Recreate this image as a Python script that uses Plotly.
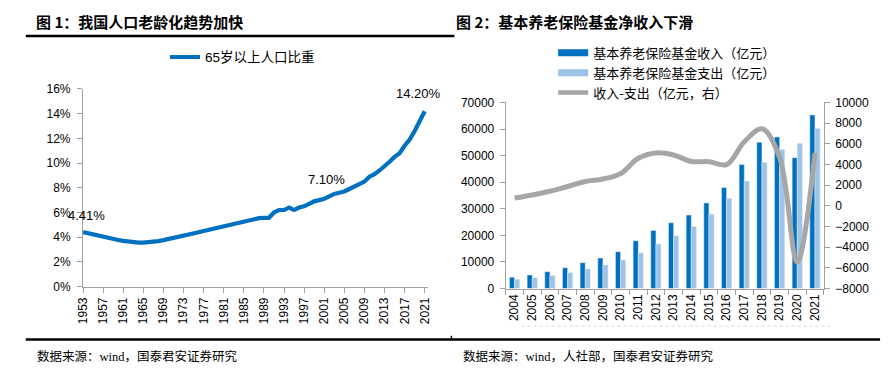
import plotly.graph_objects as go

# ---------------- data ----------------
pop_years = list(range(1953, 2022))
pop65_share = [4.41, 4.31, 4.21, 4.11, 4.02, 3.93, 3.85, 3.77, 3.70, 3.64,
               3.59, 3.56, 3.56, 3.58, 3.62, 3.68, 3.76, 3.84, 3.93, 4.02,
               4.11, 4.20, 4.30, 4.40, 4.50, 4.60, 4.70, 4.80, 4.90, 5.00,
               5.10, 5.20, 5.30, 5.39, 5.48, 5.54, 5.57, 5.57, 6.00, 6.20,
               6.20, 6.40, 6.20, 6.40, 6.50, 6.70, 6.90, 7.00, 7.10, 7.30,
               7.50, 7.60, 7.70, 7.90, 8.10, 8.30, 8.50, 8.90, 9.10, 9.40,
               9.70, 10.10, 10.50, 10.80, 11.40, 11.90, 12.60, 13.50, 14.20]
pop_labels = {1953: 4.41, 2001: 7.10, 2021: 14.20}

fund_years = [str(y) for y in range(2004, 2022)]
fund_income = [4258, 5093, 6310, 7834, 9740, 11491, 13873, 17965, 21830,
               24733, 27620, 32195, 37991, 46614, 55005, 57026, 49229, 65300]
fund_expense = [3502, 4040, 4897, 5965, 7390, 8894, 10755, 13363, 16712,
                19818, 23326, 27929, 34004, 40424, 47550, 52342, 54656, 60200]
fund_net = [756, 1053, 1413, 1869, 2350, 2597, 3118, 4602, 5118,
            4915, 4294, 4266, 3987, 6190, 7455, 4684, -5427, 5100]

name_pop = "65岁以上人口比重"
name_inc = "基本养老保险基金收入（亿元）"
name_exp = "基本养老保险基金支出（亿元）"
name_net = "收入-支出（亿元，右）"

DARK = "#0070C0"
LIGHT = "#9DC3E6"
GRAY = "#A6A6A6"
AXIS = "#A0A0A0"
W, H = 890, 390

def px(x):
    return x / W

def py(y):
    return 1 - y / H

fig = go.Figure()

# ---------------- left chart ----------------
fig.add_trace(go.Scatter(x=pop_years, y=pop65_share, mode="lines",
                         line=dict(color=DARK, width=4.2), name=name_pop,
                         xaxis="x", yaxis="y", legend="legend", cliponaxis=False))

# ---------------- right chart ----------------
fig.add_trace(go.Bar(x=fund_years, y=fund_income, marker_color=DARK, name=name_inc,
                     xaxis="x2", yaxis="y2", showlegend=False))
fig.add_trace(go.Bar(x=fund_years, y=fund_expense, marker_color=LIGHT, name=name_exp,
                     xaxis="x2", yaxis="y2", showlegend=False))
fig.add_trace(go.Scatter(x=fund_years, y=fund_net, mode="lines",
                         line=dict(color=GRAY, width=5, shape="spline", smoothing=1.0),
                         name=name_net, xaxis="x2", yaxis="y3", showlegend=False))
# legend entries (wide rectangle style)
for nm, col, wd in [(name_inc, DARK, 7), (name_exp, LIGHT, 7), (name_net, GRAY, 4.5)]:
    fig.add_trace(go.Scatter(x=[None], y=[None], mode="lines", name=nm,
                             line=dict(color=col, width=wd),
                             xaxis="x2", yaxis="y2", legend="legend2"))

tickfont = dict(family="Liberation Sans, Arial", size=12, color="#000")

# data labels on left chart
shifts = {1953: (3, 17), 2001: (2, 19), 2021: (-6, 18)}
annotations = []
for yr, val in pop_labels.items():
    dx, dy = shifts[yr]
    annotations.append(dict(x=yr, y=val, xref="x", yref="y", text=f"{val:.2f}%",
                            showarrow=False, xshift=dx, yshift=dy,
                            font=dict(family="Liberation Sans, Arial", size=13, color="#000")))

titlefont = dict(family="Noto Sans CJK SC", size=15, color="#000", weight="bold")
annotations += [
    dict(x=px(27), y=py(15), xref="paper", yref="paper", xanchor="left", yanchor="middle",
         text="<b>图 1：我国人口老龄化趋势加快</b>", showarrow=False, font=titlefont),
    dict(x=px(453), y=py(15), xref="paper", yref="paper", xanchor="left", yanchor="middle",
         text="<b>图 2：基本养老保险基金净收入下滑</b>", showarrow=False, font=titlefont),
]
srcfont = dict(family="Liberation Serif, Noto Sans CJK SC", size=12.5, color="#000")
annotations += [
    dict(x=px(28), y=py(362), xref="paper", yref="paper", xanchor="left", yanchor="middle",
         text="数据来源：wind，国泰君安证券研究", showarrow=False, font=srcfont),
    dict(x=px(460), y=py(362), xref="paper", yref="paper", xanchor="left", yanchor="middle",
         text="数据来源：wind，人社部，国泰君安证券研究", showarrow=False, font=srcfont),
]

shapes = [
    dict(type="line", xref="paper", yref="paper", x0=px(19), x1=px(453), y0=py(30), y1=py(30),
         line=dict(color="#000", width=2.5)),
    dict(type="line", xref="paper", yref="paper", x0=px(19), x1=px(884), y0=py(345), y1=py(345),
         line=dict(color="#000", width=2.5)),
    dict(type="line", xref="paper", yref="paper", x0=px(450), x1=px(450), y0=py(345), y1=py(341),
         line=dict(color="#000", width=1.5)),
    dict(type="line", xref="paper", yref="paper", x0=px(521), x1=px(835), y0=py(331), y1=py(331),
         line=dict(color="#D8D8D8", width=1, dash="dot")),
]

fig.update_layout(
    width=W, height=H, margin=dict(l=0, r=0, t=0, b=0),
    paper_bgcolor="white", plot_bgcolor="white",
    barmode="group", bargap=0.42, bargroupgap=0,
    annotations=annotations, shapes=shapes,
    xaxis=dict(domain=[px(77), px(426)], anchor="y", range=[1953, 2021.6],
               tick0=1953, dtick=4, tickangle=-90, ticks="outside", ticklen=5,
               tickcolor=AXIS, showline=True, linecolor=AXIS, linewidth=1.2,
               showgrid=False, zeroline=False, tickfont=dict(tickfont, size=12)),
    yaxis=dict(domain=[py(290), py(85)], anchor="x", range=[0, 16], dtick=2,
               ticksuffix="%", ticks="outside", ticklen=5, tickcolor=AXIS,
               showline=True, linecolor=AXIS, linewidth=1.2, showgrid=False,
               zeroline=False, tickfont=tickfont, ticklabelstandoff=4),
    xaxis2=dict(domain=[px(505), px(827)], anchor="y2", type="category",
                range=[-0.5, 17.5], tickangle=-90, ticks="outside", ticklen=5,
                tickson="boundaries", tickcolor=AXIS, showline=True, linecolor=AXIS,
                linewidth=1.2, showgrid=False, zeroline=False, tickfont=tickfont),
    yaxis2=dict(domain=[py(292), py(99)], anchor="x2", range=[0, 70000], dtick=10000,
                tickformat="d", ticks="outside", ticklen=5, tickcolor=AXIS,
                showline=True, linecolor=AXIS, linewidth=1.2, showgrid=False,
                zeroline=False, tickfont=tickfont, ticklabelstandoff=3),
    yaxis3=dict(overlaying="y2", side="right", anchor="x2", range=[-8000, 10000],
                dtick=2000, tickformat="d", ticks="outside", ticklen=5, tickcolor=AXIS,
                showline=True, linecolor=AXIS, linewidth=1.2, showgrid=False,
                zeroline=False, tickfont=tickfont, ticklabelstandoff=3),
    legend=dict(x=px(160), y=py(36), xanchor="left", yanchor="top",
                bgcolor="rgba(0,0,0,0)", borderwidth=0,
                font=dict(family="Liberation Sans, Noto Sans CJK SC", size=13.5, color="#000")),
    legend2=dict(x=px(553), y=py(32), xanchor="left", yanchor="top",
                 bgcolor="rgba(0,0,0,0)", borderwidth=0, tracegroupgap=0,
                 font=dict(family="Noto Sans CJK SC", size=13, color="#000")),
)

fig.write_html("out.html", config={"displayModeBar": False},
               post_script="document.body.style.margin='0';document.body.style.overflow='hidden';")
